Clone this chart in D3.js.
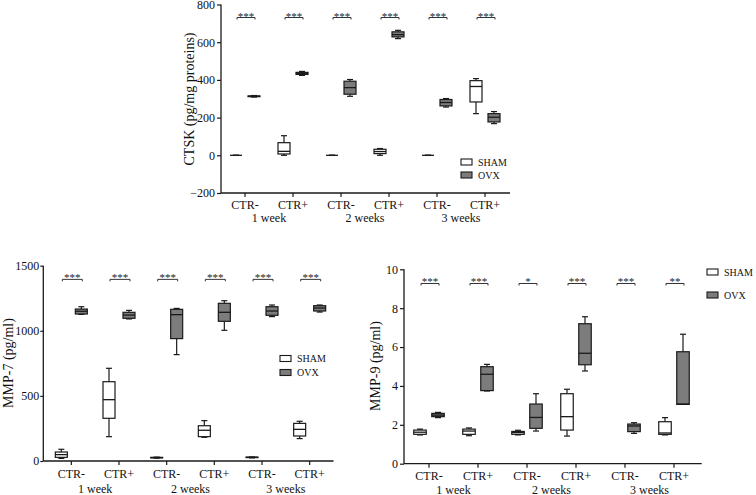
<!DOCTYPE html>
<html>
<head>
<meta charset="utf-8">
<script src="https://cdn.jsdelivr.net/npm/d3@7/dist/d3.min.js"></script>
<style>
  html, body { margin: 0; padding: 0; background: #fff; }
  svg { display: block; }
  svg text { font-family: "Liberation Serif", "Times New Roman", Times, "Nimbus Roman", "Noto Serif", serif !important; }
</style>
</head>
<body>
<svg id="chart" width="756" height="495"></svg>
<script>
// ---------- data ----------
const categories = ["CTR-", "CTR+", "CTR-", "CTR+", "CTR-", "CTR+"];
const weeks = ["1 week", "2 weeks", "3 weeks"];
const groups = ["SHAM", "OVX"];

// box stats: [min, q1, median, q3, max]
const ctskSham = [[0,0,0,0,0],[0,7,21,67,104],[0,0,0,0,0],[0,9,20,32,36],[0,0,0,0,0],[221,283,365,396,407]];
const ctskOvx  = [[309,311,313,315,317],[424,429,435,440,445],[313,324,359,393,402],[619,628,640,655,663],[256,262,280,296,301],[168,177,202,221,232]];
const ctskTicks = [-200, 0, 200, 400, 600, 800];
const ctskSig = ["***","***","***","***","***","***"];

const mmp7Sham = [[20,28,49,69,90],[187,328,471,609,712],[22,24,26,28,30],[182,187,236,271,310],[24,26,28,30,31],[172,192,243,289,305]];
const mmp7Ovx  = [[1126,1129,1150,1167,1185],[1091,1096,1121,1142,1157],[817,940,1124,1165,1172],[1004,1073,1142,1211,1231],[1109,1119,1152,1185,1198],[1144,1152,1175,1193,1198]];
const mmp7Ticks = [0, 500, 1000, 1500];
const mmp7Sig = ["***","***","***","***","***","***"];

const mmp9Sham = [[1.48,1.51,1.62,1.73,1.78],[1.44,1.51,1.68,1.78,1.84],[1.48,1.51,1.60,1.66,1.72],[1.42,1.73,2.42,3.60,3.83],null,[1.48,1.51,1.58,2.16,2.37]];
const mmp9Ovx  = [[2.37,2.42,2.50,2.59,2.64],[3.74,3.76,4.60,4.99,5.11],[1.68,1.82,2.38,3.07,3.60],[4.77,5.09,5.68,7.20,7.56],[1.56,1.65,1.94,2.04,2.11],[3.05,3.05,3.07,5.76,6.66]];
const mmp9Ticks = [0, 2, 4, 6, 8, 10];
const mmp9Sig = ["***","***","*","***","***","**"];

// ---------- drawing ----------
const svg = d3.select("#chart");
const fills = { SHAM: "#ffffff", OVX: "#7c7c7c" };
const INK = "#1a1a1a";

function panel(cfg) {
  const g = svg.append("g");
  const idx = d3.range(categories.length);
  const x = d3.scaleBand().domain(idx).range([cfg.bx0, cfg.bx1]).padding(0);
  const sub = d3.scalePoint().domain(groups)
    .range([x.bandwidth() / 2 - cfg.off, x.bandwidth() / 2 + cfg.off]);
  const y = d3.scaleLinear().domain(cfg.domain).range([cfg.yb, cfg.yt]);

  // y axis
  const yAxis = d3.axisLeft(y).tickValues(cfg.ticks).tickFormat(d3.format("d"))
    .tickSize(cfg.tickSize).tickPadding(cfg.tickPad).tickSizeOuter(0);
  const ya = g.append("g").attr("transform", `translate(${cfg.ax},0)`).call(yAxis);
  ya.attr("font-family", null);
  ya.select(".domain").attr("stroke", INK).attr("stroke-width", 1.3)
    .attr("d", `M0,${y(cfg.domain[1])}V${y(cfg.domain[0])}`);
  ya.selectAll(".tick line").attr("stroke", INK).attr("stroke-width", 1.2);
  ya.selectAll(".tick text").attr("font-size", 12).attr("fill", "#111");

  // x axis
  const xAxis = d3.axisBottom(x).tickSize(4).tickSizeOuter(0).tickFormat(i => categories[i]).tickPadding(3);
  const xa = g.append("g").attr("transform", `translate(0,${cfg.yb})`).call(xAxis);
  xa.attr("font-family", null);
  xa.select(".domain").attr("stroke", INK).attr("stroke-width", 1.3)
    .attr("d", `M${cfg.ax},0H${cfg.axEnd}`);
  xa.selectAll(".tick line").attr("stroke", INK).attr("stroke-width", 1.2);
  xa.selectAll(".tick text").attr("font-size", 12).attr("fill", "#111")
    .attr("y", cfg.catDy).attr("dy", 0);

  // week labels
  g.selectAll("text.week").data(weeks).join("text")
    .attr("class", "week")
    .attr("x", (d, i) => (x(2 * i) + x(2 * i + 1)) / 2 + x.bandwidth() / 2)
    .attr("y", cfg.yb + cfg.weekDy)
    .attr("text-anchor", "middle").attr("font-size", 12).attr("fill", "#111")
    .text(d => d);

  // boxes
  const series = [{ name: "SHAM", data: cfg.sham }, { name: "OVX", data: cfg.ovx }];
  series.forEach(s => {
    s.data.forEach((b, i) => {
      if (!b) return;
      const cx = x(i) + sub(s.name);
      const w = cfg.boxW, cw = cfg.capW;
      const bg = g.append("g");
      bg.append("line").attr("x1", cx).attr("x2", cx).attr("y1", y(b[4])).attr("y2", y(b[3]))
        .attr("stroke", INK).attr("stroke-width", 1.2);
      bg.append("line").attr("x1", cx).attr("x2", cx).attr("y1", y(b[1])).attr("y2", y(b[0]))
        .attr("stroke", INK).attr("stroke-width", 1.2);
      bg.append("line").attr("x1", cx - cw / 2).attr("x2", cx + cw / 2).attr("y1", y(b[4])).attr("y2", y(b[4]))
        .attr("stroke", INK).attr("stroke-width", 1.2);
      bg.append("line").attr("x1", cx - cw / 2).attr("x2", cx + cw / 2).attr("y1", y(b[0])).attr("y2", y(b[0]))
        .attr("stroke", INK).attr("stroke-width", 1.2);
      bg.append("rect").attr("x", cx - w / 2).attr("width", w)
        .attr("y", y(b[3])).attr("height", Math.max(0, y(b[1]) - y(b[3])))
        .attr("fill", fills[s.name]).attr("stroke", INK).attr("stroke-width", 1.2);
      bg.append("line").attr("x1", cx - w / 2).attr("x2", cx + w / 2).attr("y1", y(b[2])).attr("y2", y(b[2]))
        .attr("stroke", INK).attr("stroke-width", 1.3);
    });
  });

  // significance brackets
  cfg.sig.forEach((s, i) => {
    const x1 = x(i) + sub("SHAM") + 1, x2 = x(i) + sub("OVX") + 1;
    const yy = y(cfg.sigLevel);
    g.append("path").attr("d", `M${x1},${yy + 2}V${yy}H${x2}V${yy + 2}`)
      .attr("fill", "none").attr("stroke", "#333").attr("stroke-width", 1);
    g.append("text").attr("x", (x1 + x2) / 2).attr("y", yy + 2)
      .attr("text-anchor", "middle").attr("font-size", 11).attr("fill", "#222").text(s);
  });

  // y title
  g.append("text").attr("transform", `translate(${cfg.titleX},${cfg.titleY}) rotate(-90)`)
    .attr("text-anchor", "middle").attr("dominant-baseline", "central")
    .attr("font-size", cfg.titleSize).attr("fill", "#111").text(cfg.title);

  // legend
  groups.forEach((gn, k) => {
    const ly = cfg.legY + k * cfg.legGap;
    g.append("rect").attr("x", cfg.legX).attr("y", ly - 3).attr("width", 11).attr("height", 6)
      .attr("fill", fills[gn]).attr("stroke", INK).attr("stroke-width", 1.1);
    g.append("text").attr("x", cfg.legX + 17).attr("y", ly).attr("dy", "0.35em")
      .attr("font-size", 10).attr("fill", "#111").text(gn);
  });
}

panel({
  sham: ctskSham, ovx: ctskOvx, ticks: ctskTicks, sig: ctskSig, sigLevel: 731,
  domain: [-200, 800], yb: 193, yt: 4.5,
  ax: 221, axEnd: 510, bx0: 221, bx1: 509, off: 9, boxW: 12, capW: 6,
  tickSize: 4, tickPad: 2, catDy: 16, weekDy: 29,
  title: "CTSK (pg/mg proteins)", titleX: 189, titleY: 99, titleSize: 14,
  legX: 461, legY: 162, legGap: 13
});

panel({
  sham: mmp7Sham, ovx: mmp7Ovx, ticks: mmp7Ticks, sig: mmp7Sig, sigLevel: 1395,
  domain: [0, 1500], yb: 461, yt: 265.7,
  ax: 43.3, axEnd: 333.5, bx0: 47.5, bx1: 333.5, off: 10, boxW: 12, capW: 6,
  tickSize: 3, tickPad: 1, catDy: 17, weekDy: 31.5,
  title: "MMP-7 (pg/ml)", titleX: 8, titleY: 363, titleSize: 14,
  legX: 280, legY: 358.5, legGap: 14
});

panel({
  sham: mmp9Sham, ovx: mmp9Ovx, ticks: mmp9Ticks, sig: mmp9Sig, sigLevel: 9.27,
  domain: [0, 10], yb: 463.7, yt: 269.3,
  ax: 404, axEnd: 701.7, bx0: 404.5, bx1: 698.5, off: 9, boxW: 12.5, capW: 6,
  tickSize: 4, tickPad: 2, catDy: 16.5, weekDy: 30.5,
  title: "MMP-9 (pg/ml)", titleX: 375, titleY: 366, titleSize: 14,
  legX: 707, legY: 272, legGap: 23
});
</script>
</body>
</html>
